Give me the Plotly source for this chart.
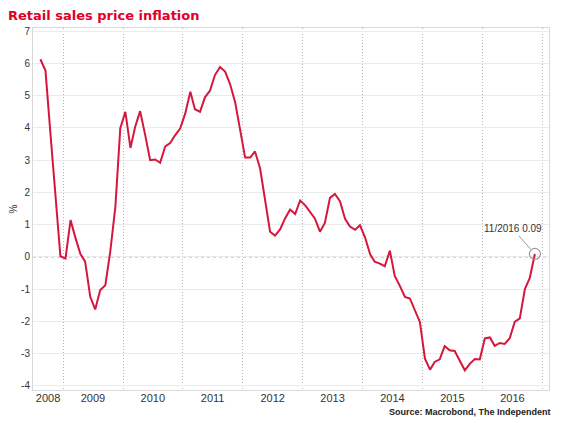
import pandas as pd
import plotly.graph_objects as go

# Monthly values, Aug 2008 .. Nov 2016 (%)
start_month = "2008-08-01"
values = [
    6.13, 5.78, 3.85, 1.95, 0.02,                                                      # 2008 Aug-Dec
    -0.05, 1.14, 0.62, 0.10, -0.15, -1.24, -1.63, -1.03, -0.88, 0.17, 1.55, 3.99,     # 2009
    4.50, 3.38, 4.02, 4.52, 3.80, 3.00, 3.02, 2.92, 3.43, 3.53, 3.78, 3.98,            # 2010
    4.45, 5.12, 4.58, 4.50, 4.95, 5.16, 5.64, 5.89, 5.75, 5.36, 4.80, 4.00,            # 2011
    3.08, 3.08, 3.27, 2.75, 1.74, 0.78, 0.66, 0.85, 1.20, 1.47, 1.33, 1.75,            # 2012
    1.60, 1.40, 1.19, 0.78, 1.05, 1.83, 1.95, 1.73, 1.18, 0.94, 0.84, 0.98,            # 2013
    0.60, 0.08, -0.15, -0.21, -0.29, 0.19, -0.59, -0.90, -1.24, -1.29, -1.65, -2.02,   # 2014
    -3.16, -3.50, -3.26, -3.18, -2.77, -2.90, -2.92, -3.21, -3.52, -3.32, -3.17, -3.18,  # 2015
    -2.53, -2.50, -2.76, -2.67, -2.70, -2.52, -2.02, -1.91, -1.00, -0.65, 0.09,        # 2016 Jan-Nov
]
last_label = "11/2016 0.09"

year_labels = ["2008", "2009", "2010", "2011", "2012", "2013", "2014", "2015", "2016"]
year_label_pos = ["2008-10-01", "2009-07-01", "2010-07-01", "2011-07-01", "2012-07-01",
                  "2013-07-01", "2014-07-01", "2015-07-01", "2016-07-01"]
year_bounds = ["2009-01-01", "2010-01-01", "2011-01-01", "2012-01-01", "2013-01-01",
               "2014-01-01", "2015-01-01", "2016-01-01", "2017-01-01"]
y_ticks = [-4, -3, -2, -1, 0, 1, 2, 3, 4, 5, 6, 7]
y_tick_text = ["-4", "-3", "-2", "-1", "0", "1", "2", "3", "4", "5", "6", "7"]

dates = pd.date_range(start_month, periods=len(values), freq="MS") + pd.Timedelta(days=14)

RED = "#d5173b"
FONT = "Liberation Sans"
fig = go.Figure()
fig.add_trace(go.Scatter(x=dates, y=values, mode="lines",
                         line=dict(color=RED, width=2), hoverinfo="skip", showlegend=False))
fig.add_trace(go.Scatter(x=[dates[-1]], y=[values[-1]], mode="markers",
                         marker=dict(symbol="circle-open", size=11, color="#9a9a9a",
                                     line=dict(width=1.2, color="#9a9a9a")),
                         hoverinfo="skip", showlegend=False))

fig.add_annotation(x=dates[-1], y=values[-1], text=last_label, showarrow=True,
                   arrowhead=0, arrowwidth=1, arrowcolor="#9a9a9a",
                   ax=-22, ay=-25, standoff=6,
                   font=dict(family=FONT, size=10, color="#333333"))

# zero line dashed
fig.add_shape(type="line", xref="paper", x0=0, x1=1, yref="y", y0=0, y1=0,
              line=dict(color="#8c8c8c", width=1, dash="3px,3px"), layer="below")

# The page body has an 8px margin, so the figure is sized 8px smaller in each direction.
W, H = 556, 415
fig.update_layout(
    width=W, height=H,
    margin=dict(l=25, r=14.5, t=20, b=33),
    paper_bgcolor="white", plot_bgcolor="white",
    title=dict(text="<b>Retail sales price inflation</b>", x=0.0, xanchor="left",
               xref="container", yref="container",
               y=1 - 7.5 / H, yanchor="middle",
               font=dict(family="DejaVu Sans", size=13, color="#e0002a")),
    xaxis=dict(type="date", range=["2008-07-01", "2017-02-09"], automargin=False,
               tickmode="array", tickvals=year_label_pos, ticktext=year_labels,
               showgrid=False, ticks="", zeroline=False, ticklabelstandoff=-2,
               tickfont=dict(family=FONT, size=11, color="#333333"),
               showline=True, linecolor="#d9d9d9", linewidth=1, mirror=True,
               minor=dict(tickmode="array", tickvals=year_bounds, showgrid=True,
                          gridcolor="#b8b8b8", griddash="1px,2px", gridwidth=1, ticks="")),
    yaxis=dict(range=[-4.13, 7.1], tickmode="array", tickvals=y_ticks, ticktext=y_tick_text,
               automargin=False,
               showgrid=True, gridcolor="#ebebeb", gridwidth=1, zeroline=False, ticks="",
               tickfont=dict(family=FONT, size=10, color="#333333"),
               showline=True, linecolor="#d9d9d9", linewidth=1, mirror=True,
               title=dict(text="%", standoff=4,
                          font=dict(family=FONT, size=10, color="#333333"))),
)

fig.add_annotation(xref="paper", yref="paper", x=1.007, y=-0.062, xanchor="right", yanchor="middle",
                   text="<b>Source: Macrobond, The Independent</b>", showarrow=False,
                   font=dict(family=FONT, size=9, color="#222222"))

fig.write_html("out.html")
